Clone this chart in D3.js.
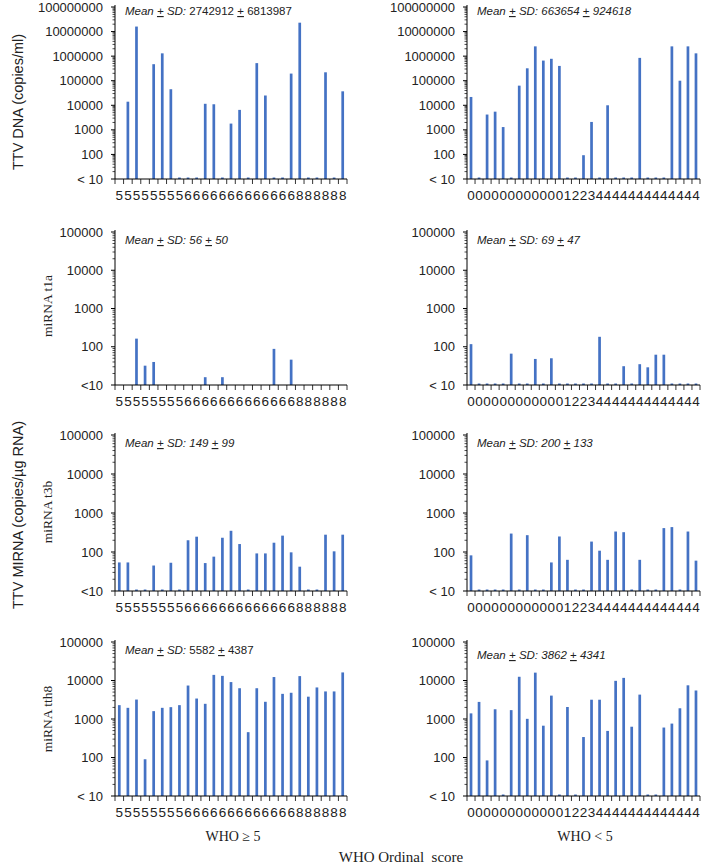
<!DOCTYPE html>
<html><head><meta charset="utf-8">
<script src="https://cdn.jsdelivr.net/npm/d3@7"></script>
<style>
html,body{margin:0;padding:0;background:#fff;}
svg{display:block;}
</style>
</head><body>
<svg id="c" width="708" height="866"></svg>
<script>
// ---------- DATA ----------
const labelsLeft  = "555555556666666666666888888".split("");
const labelsRight = "00000000000012234444444444444".split("");
// null = no bar, 0 = below detection (< 10, drawn as a stub)
const dnaLeft  = [null,14000,16000000,null,470000,1300000,45000,0,0,0,11500,11000,0,1800,6500,0,520000,25000,0,0,195000,23000000,0,0,220000,0,37000];
const dnaRight = [21800,0,4200,5500,1300,0,63000,320000,2500000,660000,780000,400000,0,0,93,2100,0,10000,0,0,0,850000,0,0,0,2500000,100000,2500000,1300000];
const t1aLeft  = [null,null,163,32,40,null,null,null,null,null,16,null,16,null,null,null,null,null,88,null,46,null,null,null,null,null,null];
const t1aRight = [117,0,0,0,0,66,0,0,48,0,50,0,0,0,0,0,182,0,0,31,0,35,29,62,62,0,0,0,0];
const t3bLeft  = [54,54,0,0,45,0,53,0,200,247,52,76,232,350,160,0,92,92,173,263,98,42,0,0,278,104,278];
const t3bRight = [82,0,0,0,0,297,0,270,0,0,54,250,63,0,0,185,108,63,335,322,0,63,0,0,410,435,0,335,60];
const tth8Left = [2290,1950,3200,90,1600,1950,2030,2290,7400,3400,2480,14000,13200,9100,6300,455,6300,2800,12300,4500,4800,13000,3800,6600,5200,5200,16200];
const tth8Right= [1400,2780,84,1790,0,1700,12500,1010,16000,670,4050,0,2050,0,340,3170,3170,490,9800,11700,630,4300,0,0,600,760,1900,7500,5500];
const meanSD = [["2742912","6813987"],["663654","924618"],["56","50"],["69","47"],["149","99"],["200","133"],["5582","4387"],["3862","4341"]];
const yMaxDNA = 1e8, yMaxMiRNA = 1e5, yMin = 10;
const lowLabels = ["< 10","< 10","<10","< 10","<10","< 10","< 10","< 10"];
const rowLabels = ["miRNA  t1a","miRNA  t3b","miRNA  tth8"];

// ---------- LAYOUT ----------
const svg = d3.select("#c");
const BLUE = "#4472c4";
const cols = [{x0:115,x1:347,labels:labelsLeft},{x0:467,x1:700,labels:labelsRight}];
const rows = [{top:7,bot:179,max:yMaxDNA},{top:232,bot:385,max:yMaxMiRNA},{top:435,bot:591,max:yMaxMiRNA},{top:642,bot:796,max:yMaxMiRNA}];
const series = [dnaLeft,dnaRight,t1aLeft,t1aRight,t3bLeft,t3bRight,tth8Left,tth8Right];

series.forEach((vals,i)=>{
  const r = rows[Math.floor(i/2)], c = cols[i%2];
  const idx = c.labels.map((d,k)=>k);
  const x = d3.scaleBand().domain(idx).range([c.x0,c.x1]).paddingInner(0).paddingOuter(0);
  const y = d3.scaleLog().domain([yMin,r.max]).range([r.bot,r.top]);
  const g = svg.append("g");

  // bars
  const bw = 2.7;
  g.selectAll("rect.bar").data(vals.map((v,k)=>({v,k})).filter(d=>d.v!==null)).enter()
    .append("rect")
    .attr("x",d=>x(d.k)+x.bandwidth()/2-bw/2)
    .attr("width",bw)
    .attr("y",d=> d.v>yMin ? y(d.v) : r.bot-1.5)
    .attr("height",d=> d.v>yMin ? r.bot-y(d.v) : 1.5)
    .attr("fill",BLUE);

  // y axis line + ticks
  g.append("line").attr("x1",c.x0).attr("x2",c.x0).attr("y1",r.top-2).attr("y2",r.bot).attr("stroke","#000").attr("stroke-width",1);
  const decades = d3.range(Math.log10(yMin), Math.log10(r.max)+1);
  decades.forEach(e=>{
    const v = Math.pow(10,e);
    g.append("line").attr("x1",c.x0-4).attr("x2",c.x0).attr("y1",y(v)).attr("y2",y(v)).attr("stroke","#000");
    if (v<r.max) for(let m=2;m<10;m++){
      g.append("line").attr("x1",c.x0-2.5).attr("x2",c.x0).attr("y1",y(v*m)).attr("y2",y(v*m)).attr("stroke","#000").attr("stroke-width",0.7);
    }
    g.append("text").attr("x",c.x0-12).attr("y",y(v)+4.5).attr("text-anchor","end")
      .attr("font-family","Liberation Sans, Arial, sans-serif").attr("font-size",13).attr("fill","#222")
      .text(v===yMin ? lowLabels[i] : d3.format("d")(v));
  });

  // x axis line + ticks at boundaries
  g.append("line").attr("x1",c.x0).attr("x2",c.x1).attr("y1",r.bot).attr("y2",r.bot).attr("stroke","#000");
  idx.concat([idx.length]).forEach(k=>{
    const xx = k<idx.length ? x(k) : c.x1;
    g.append("line").attr("x1",xx).attr("x2",xx).attr("y1",r.bot).attr("y2",r.bot+5).attr("stroke","#000").attr("stroke-width",0.8);
  });
  g.selectAll("text.xl").data(c.labels).enter().append("text")
    .attr("x",(d,k)=>x(k)+x.bandwidth()/2).attr("y",r.bot+20.5)
    .attr("text-anchor","middle").attr("font-family","Liberation Sans, Arial, sans-serif")
    .attr("font-size",13.5).attr("fill","#222").text(d=>d);

  // mean text
  const t = g.append("text").attr("x",c.x0+10).attr("y",r.top+(i===7?17:(i<2?8:12)))
    .attr("font-family","Liberation Sans, Arial, sans-serif").attr("font-size",11.5).attr("fill","#222").attr("font-style","italic");
  t.append("tspan").text("Mean ");
  t.append("tspan").attr("text-decoration","underline").text("+");
  t.append("tspan").text(" SD: ");
  t.append("tspan").attr("font-style", (i===0||i===6) ? "normal":"italic").text(meanSD[i][0]+" ");
  t.append("tspan").attr("font-style","normal").attr("text-decoration","underline").text("+");
  t.append("tspan").attr("font-style", (i===0||i===6) ? "normal":"italic").text(" "+meanSD[i][1]);
});

// axis titles
svg.append("text").attr("transform","translate(23,102) rotate(-90)").attr("text-anchor","middle")
  .attr("font-family","Liberation Sans, Arial, sans-serif").attr("font-size",14.5).attr("fill","#222").text("TTV DNA (copies/ml)");
svg.append("text").attr("transform","translate(23,515) rotate(-90)").attr("text-anchor","middle")
  .attr("font-family","Liberation Sans, Arial, sans-serif").attr("font-size",14.5).attr("fill","#222").text("TTV MIRNA (copies/µg RNA)");
[306,512,719].forEach((cy,k)=>{
  svg.append("text").attr("transform",`translate(52,${cy}) rotate(-90)`).attr("text-anchor","middle")
    .attr("font-family","Liberation Serif, Times New Roman, serif").attr("font-size",13.5).attr("fill","#222").text(rowLabels[k]);
});
svg.append("text").attr("x",233).attr("y",841).attr("text-anchor","middle")
  .attr("font-family","Liberation Serif, Times New Roman, serif").attr("font-size",14).attr("fill","#222").text("WHO ≥ 5");
svg.append("text").attr("x",585).attr("y",841).attr("text-anchor","middle")
  .attr("font-family","Liberation Serif, Times New Roman, serif").attr("font-size",14).attr("fill","#222").text("WHO < 5");
svg.append("text").attr("x",401).attr("y",862).attr("text-anchor","middle")
  .attr("font-family","Liberation Serif, Times New Roman, serif").attr("font-size",15).attr("fill","#222").attr("xml:space","preserve").text("WHO Ordinal  score");
</script>
</body></html>
